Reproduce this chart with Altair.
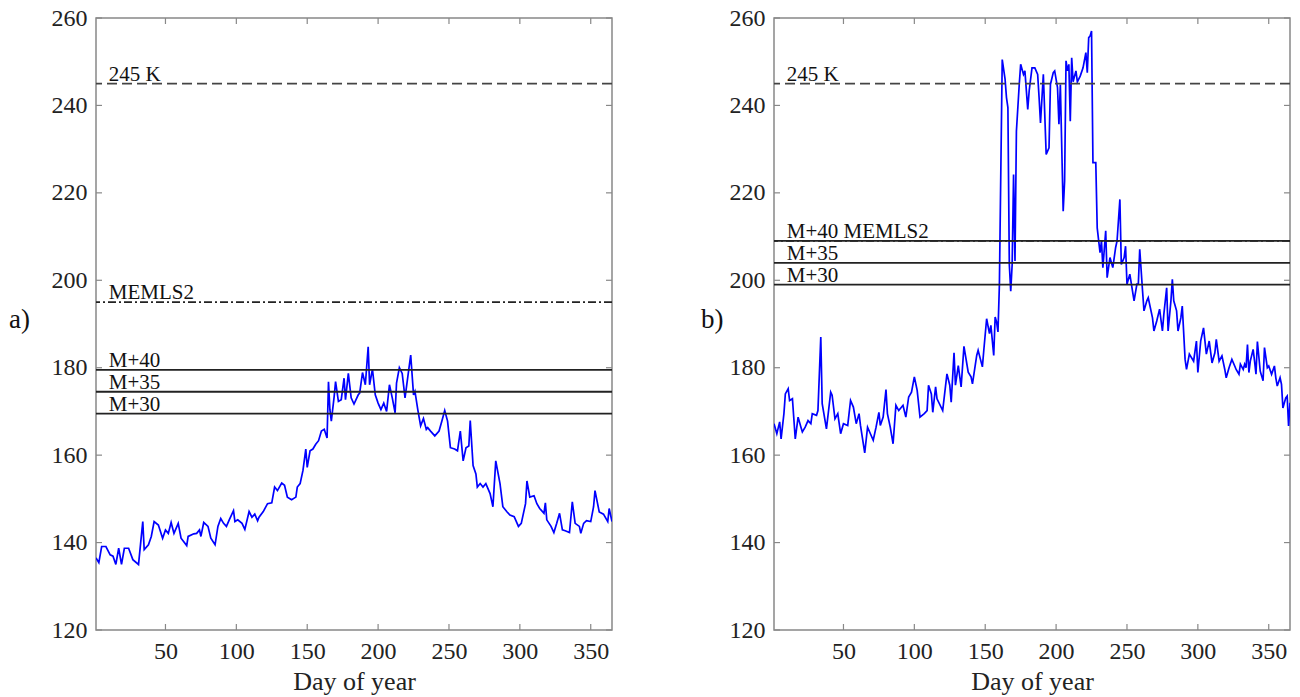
import altair as alt
import pandas as pd

# ---------------- data ----------------
days_a = [1, 3, 5, 8, 11, 13, 15, 17, 19, 21, 24, 27, 31, 34, 35, 38, 40, 42, 45, 48,
          50, 52, 54, 56, 59, 61, 65, 66, 70, 72, 74, 75, 77, 80, 82, 85, 87, 89, 91, 93,
          95, 98, 99, 101, 104, 106, 109, 111, 113, 115, 116, 119, 122, 125, 127, 129, 132, 134, 136, 139,
          142, 143, 145, 147, 149, 150, 152, 154, 156, 158, 160, 162, 164, 165, 166, 167, 169, 170, 172, 174,
          176, 177, 179, 181, 183, 186, 187, 189, 191, 193, 194, 196, 198, 200, 202, 204, 206, 208, 210, 212,
          213, 215, 217, 219, 221, 223, 225, 226, 228, 230, 232, 234, 235, 237, 240, 243, 245, 247, 249, 251,
          254, 256, 258, 260, 262, 264, 265, 267, 269, 270, 272, 274, 276, 279, 281, 283, 286, 288, 291, 293,
          296, 299, 301, 304, 305, 307, 310, 312, 314, 317, 318, 319, 322, 324, 326, 328, 330, 332, 335, 337,
          339, 342, 343, 345, 347, 350, 352, 353, 356, 359, 362, 363, 365]
tb_a = [136.5, 135.4, 139.1, 139.1, 137.2, 136.9, 135.0, 138.7, 135.0, 138.7, 138.7, 136.1, 135.0, 144.8, 138.4, 139.5, 141.4, 144.8, 144.0, 141.0,
        142.9, 142.1, 144.6, 142.1, 144.4, 141.0, 139.3, 141.4, 142.0, 142.1, 142.9, 141.4, 144.6, 143.7, 141.0, 139.5, 143.7, 145.5, 144.4, 143.7,
        145.2, 147.3, 144.8, 145.2, 144.4, 143.0, 147.1, 145.8, 146.5, 145.0, 145.8, 147.1, 148.9, 149.1, 152.7, 151.9, 153.6, 153.1, 150.4, 149.8,
        150.4, 152.7, 153.5, 156.5, 161.4, 157.2, 161.0, 161.4, 162.5, 163.3, 165.5, 165.9, 163.9, 176.8, 170.4, 167.8, 173.4, 176.8, 172.3, 172.7,
        177.6, 172.7, 178.7, 173.1, 171.7, 173.8, 174.2, 178.9, 176.1, 184.8, 176.1, 179.7, 173.8, 171.9, 170.4, 171.9, 170.0, 176.1, 173.1, 169.7,
        176.5, 180.0, 178.7, 173.1, 178.0, 182.9, 173.8, 174.6, 170.4, 166.7, 168.4, 165.9, 166.3, 165.5, 164.4, 165.5, 167.8, 170.2, 167.8, 161.7,
        161.4, 161.0, 165.5, 158.7, 161.7, 162.1, 167.9, 157.6, 155.7, 152.7, 153.5, 152.7, 153.5, 151.2, 148.2, 158.7, 153.5, 148.2, 147.0, 146.3,
        145.9, 143.7, 144.4, 148.9, 154.1, 150.4, 150.7, 148.9, 147.8, 146.7, 149.1, 145.2, 143.7, 142.3, 144.4, 146.7, 142.9, 142.7, 142.3, 149.3,
        144.4, 143.7, 142.1, 144.4, 145.0, 144.8, 148.2, 151.9, 147.0, 146.5, 144.8, 147.8, 144.8]

days_b = [1, 3, 5, 6, 8, 9, 11, 12, 14, 16, 18, 20, 21, 23, 25, 27, 28, 31, 32, 34,
          35, 38, 41, 42, 44, 46, 48, 50, 53, 55, 57, 59, 61, 62, 65, 67, 69, 71, 73, 75,
          76, 78, 80, 81, 83, 85, 87, 89, 92, 94, 96, 98, 100, 102, 104, 107, 109, 110, 112, 113,
          115, 116, 120, 123, 125, 126, 128, 129, 131, 133, 135, 138, 140, 141, 144, 145, 148, 149, 151, 153,
          154, 156, 157, 158, 159, 160, 162, 164, 165, 166, 167, 168, 169, 170, 171, 172, 174, 175, 177, 178,
          180, 181, 183, 185, 187, 188, 189, 191, 193, 195, 196, 198, 199, 201, 202, 203, 205, 206, 207, 208,
          209, 210, 211, 212, 214, 215, 217, 219, 221, 222, 223, 224, 225, 226, 228, 229, 231, 232, 233, 235,
          236, 238, 240, 242, 243, 245, 246, 248, 249, 250, 252, 255, 257, 258, 259, 261, 262, 264, 265, 268,
          269, 271, 273, 275, 276, 278, 279, 281, 282, 283, 285, 286, 288, 289, 291, 292, 294, 297, 299, 300,
          302, 304, 306, 308, 310, 312, 313, 315, 317, 319, 320, 322, 324, 326, 327, 329, 330, 332, 333, 334,
          335, 336, 337, 339, 340, 341, 342, 344, 346, 347, 349, 350, 352, 354, 355, 356, 358, 359, 360, 362,
          363, 364, 365]
tb_b = [167.2, 164.9, 167.6, 163.7, 169.5, 174.0, 175.2, 172.5, 172.9, 163.7, 168.7, 166.4, 165.3, 166.4, 167.9, 167.2, 169.5, 169.1, 170.2, 187.0,
        171.8, 166.0, 174.4, 173.7, 168.3, 169.5, 164.9, 167.2, 166.8, 172.5, 171.0, 167.2, 169.5, 166.8, 160.5, 166.4, 164.9, 163.4, 166.4, 169.8,
        166.8, 168.7, 175.0, 169.5, 166.4, 162.6, 171.4, 170.2, 171.4, 168.7, 173.3, 174.4, 177.9, 174.8, 168.7, 169.5, 170.2, 176.0, 174.0, 169.8,
        175.6, 172.9, 170.2, 178.6, 176.0, 172.1, 183.4, 176.0, 180.5, 175.6, 184.9, 179.0, 177.9, 176.3, 182.8, 184.0, 180.2, 184.0, 191.2, 187.8,
        189.7, 182.8, 191.6, 190.5, 188.2, 199.0, 250.5, 246.0, 241.8, 239.5, 203.6, 197.5, 203.6, 224.2, 204.4, 234.1, 244.8, 249.4, 247.1, 247.9,
        239.1, 243.3, 248.6, 248.6, 247.1, 241.8, 236.0, 247.1, 228.8, 230.3, 244.8, 247.5, 247.9, 244.1, 235.7, 244.8, 215.8, 222.7, 250.2, 247.9,
        249.4, 236.4, 250.9, 245.4, 247.9, 245.4, 246.7, 248.6, 252.1, 247.5, 255.5, 255.9, 257.0, 226.9, 226.9, 212.0, 206.3, 209.0, 202.9, 211.3,
        200.6, 205.2, 202.9, 207.5, 209.0, 218.5, 203.6, 205.2, 207.8, 199.1, 201.4, 195.3, 199.1, 199.1, 207.1, 197.5, 193.0, 195.3, 196.0, 191.4,
        188.4, 190.7, 193.4, 188.4, 192.2, 198.3, 188.4, 195.3, 200.2, 195.3, 193.0, 188.4, 191.4, 194.1, 181.9, 179.6, 183.1, 181.5, 186.1, 178.9,
        186.1, 189.1, 183.1, 186.1, 181.1, 183.4, 186.5, 181.5, 182.7, 179.6, 177.7, 180.0, 181.9, 180.4, 179.6, 178.5, 180.8, 179.6, 180.8, 180.0,
        185.3, 178.9, 181.5, 184.2, 181.5, 178.5, 186.0, 179.2, 177.0, 184.6, 180.0, 180.4, 178.5, 180.4, 177.7, 175.8, 177.7, 176.2, 170.8, 173.1,
        173.5, 166.7, 172.0]

ref_labels = ["245 K", "MEMLS2", "M+40", "M+35", "M+30"]
ref_styles = ["dashed", "dashdot", "solid", "solid", "solid"]
ref_levels_a = [245, 195, 179.5, 174.5, 169.5]
ref_levels_b = [245, 209, 209, 204, 199]
ref_label_day_a = [10, 10, 10, 10, 10]
ref_label_day_b = [10, 50, 10, 10, 10]

y_ticks = [120, 140, 160, 180, 200, 220, 240, 260]
x_ticks = [50, 100, 150, 200, 250, 300, 350]

FONT = "Liberation Serif"
W, H = 516, 612
TICK = 6


def panel(days, tb, levels, label_days, tag, tag_dx):
    xs = alt.Scale(domain=[1, 365], nice=False, zero=False)
    ys = alt.Scale(domain=[120, 260], nice=False, zero=False)
    x_axis = alt.Axis(values=x_ticks, title="Day of year", labelOverlap=False)
    y_axis = alt.Axis(values=y_ticks, title=None, labelOverlap=False)

    series_df = pd.DataFrame({"day": days, "tb": tb})
    ref_df = pd.DataFrame({"label": ref_labels, "style": ref_styles,
                           "level": levels, "lday": label_days})
    yt_df = pd.DataFrame({"t": y_ticks})
    xt_df = pd.DataFrame({"t": x_ticks})
    tag_df = pd.DataFrame({"tag": [tag], "v": [191]})

    series = alt.Chart(series_df).mark_line(color="#0000ff", strokeWidth=1.7, clip=True).encode(
        x=alt.X("day:Q", scale=xs, axis=x_axis),
        y=alt.Y("tb:Q", scale=ys, axis=y_axis),
    )

    rules = alt.Chart(ref_df).mark_rule(strokeWidth=1.8).encode(
        y=alt.Y("level:Q", scale=ys, axis=y_axis),
        strokeDash=alt.StrokeDash("style:N", legend=None,
                                  scale=alt.Scale(domain=["dashed", "dashdot", "solid"],
                                                  range=[[10, 5], [8, 3, 2, 3], [1, 0]])),
        color=alt.Color("style:N", legend=None,
                        scale=alt.Scale(domain=["dashed", "dashdot", "solid"],
                                        range=["#444444", "#222222", "#222222"])),
    )

    labels = alt.Chart(ref_df).mark_text(align="left", baseline="alphabetic", dy=-3,
                                         font=FONT, fontSize=21, color="#111111").encode(
        x=alt.X("lday:Q", scale=xs, axis=x_axis),
        y=alt.Y("level:Q", scale=ys, axis=y_axis),
        text="label:N",
    )

    tick_style = dict(color="#888888", strokeWidth=1.2)
    lt = alt.Chart(yt_df).mark_rule(**tick_style).encode(
        y=alt.Y("t:Q", scale=ys, axis=y_axis), x=alt.value(0), x2=alt.value(TICK))
    rt = alt.Chart(yt_df).mark_rule(**tick_style).encode(
        y=alt.Y("t:Q", scale=ys, axis=y_axis), x=alt.value(W - TICK), x2=alt.value(W))
    bt = alt.Chart(xt_df).mark_rule(**tick_style).encode(
        x=alt.X("t:Q", scale=xs, axis=x_axis), y=alt.value(H - TICK), y2=alt.value(H))
    tt = alt.Chart(xt_df).mark_rule(**tick_style).encode(
        x=alt.X("t:Q", scale=xs, axis=x_axis), y=alt.value(0), y2=alt.value(TICK))

    tag_mark = alt.Chart(tag_df).mark_text(align="left", baseline="middle",
                                           font=FONT, fontSize=27, color="#111111").encode(
        x=alt.value(tag_dx),
        y=alt.Y("v:Q", scale=ys, axis=y_axis),
        text="tag:N",
    )

    return alt.layer(series, lt, rt, bt, tt, rules, labels, tag_mark).properties(width=W, height=H)


pa = panel(days_a, tb_a, ref_levels_a, ref_label_day_a, "a)", -87)
pb = panel(days_b, tb_b, ref_levels_b, ref_label_day_b, "b)", -73)

chart = alt.hconcat(pa, pb, spacing=162, bounds="flush").properties(
    padding={"left": 8, "top": 5, "right": 5, "bottom": 5}
).configure_view(
    stroke="#888888", strokeWidth=1.5
).configure_axis(
    labelFont=FONT, labelFontSize=24, labelColor="#222222",
    titleFont=FONT, titleFontSize=26, titleFontWeight="normal", titleColor="#222222",
    tickSize=0, domain=False, grid=False, labelPadding=9, titlePadding=5,
).configure_concat(spacing=162)

chart.save("out.html", embed_options={"renderer": "svg", "actions": False})
